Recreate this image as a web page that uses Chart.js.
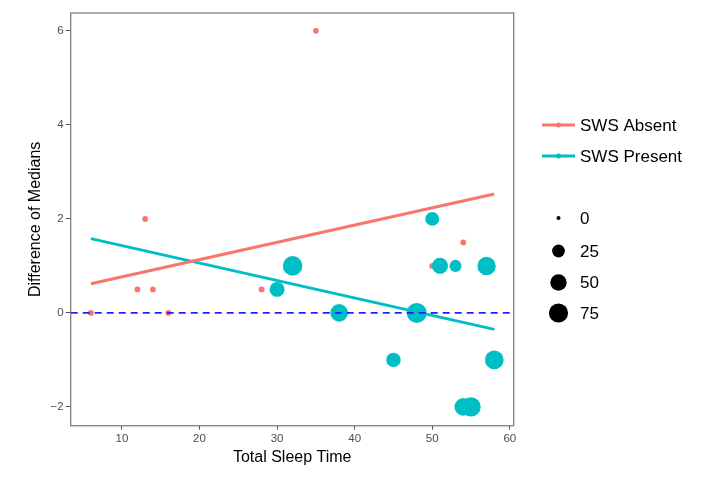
<!DOCTYPE html>
<html>
<head>
<meta charset="utf-8">
<script src="https://cdn.jsdelivr.net/npm/chart.js@4/dist/chart.umd.min.js"></script>
<style>
  body { margin: 0; background: #fff; }
  #wrap { width: 702px; height: 479px; }
</style>
</head>
<body>
<div id="wrap"><canvas id="myChart"></canvas></div>
<script>
// axis setup
const xMin = 3.4, xMax = 60.5;
const yMin = -2.4, yMax = 6.38;
const xTicks = [10, 20, 30, 40, 50, 60];
const yTicks = [-2, 0, 2, 4, 6];

// SWS Absent points
const absentX = [6, 12, 13, 14, 16, 28, 35, 50, 54];
const absentY = [0, 0.5, 2, 0.5, 0, 0.5, 6, 1, 1.5];
const absentSize = [1, 1, 1, 1, 1, 1, 1, 1, 1];

// SWS Present points
const presentX = [30, 32, 38, 45, 48, 50, 51, 53, 57, 58, 54, 55];
const presentY = [0.5, 1, 0, -1, 0, 2, 1, 1, 1, -1, -2, -2];
const presentSize = [39, 79, 60, 36, 83, 32, 47, 21, 67, 70, 60, 77];

// fitted lines (end points)
const fitAbsentX = [6, 58];
const fitAbsentY = [0.62, 2.53];
const fitPresentX = [6, 58];
const fitPresentY = [1.58, -0.35];

// size legend
const sizeBreaks = [0, 25, 50, 75];

const red = '#F8766D';
const teal = '#00BFC4';
const font = "'Liberation Sans', Arial, sans-serif";

function sizeToRadius(v) {
    return 2 + 7.6 * Math.sqrt(v / 75);
}

function toPoints(xs, ys) {
    return xs.map((x, i) => ({ x: x, y: ys[i] }));
}

// panel border + legend
const extras = {
    id: 'extras',
    beforeDatasetsDraw(chart) {
        const a = chart.chartArea;
        const ctx = chart.ctx;
        ctx.save();
        ctx.strokeStyle = '#7f7f7f';
        ctx.lineWidth = 1.3;
        ctx.strokeRect(a.left, a.top, a.right - a.left, a.bottom - a.top);
        ctx.restore();
    },
    afterDraw(chart) {
        const ctx = chart.ctx;
        ctx.save();
        ctx.font = '17px ' + font;
        ctx.textBaseline = 'middle';
        ctx.fillStyle = '#000';

        // colour legend
        const items = [['SWS Absent', red, 125], ['SWS Present', teal, 156]];
        items.forEach(it => {
            ctx.strokeStyle = it[1];
            ctx.lineWidth = 3;
            ctx.beginPath();
            ctx.moveTo(542, it[2]);
            ctx.lineTo(575, it[2]);
            ctx.stroke();
            ctx.fillStyle = it[1];
            ctx.beginPath();
            ctx.arc(558.5, it[2], 2.5, 0, Math.PI * 2);
            ctx.fill();
            ctx.fillStyle = '#000';
            ctx.fillText(it[0], 580, it[2] + 1);
        });

        // size legend
        const ys = [218, 251, 282.5, 313];
        sizeBreaks.forEach((b, i) => {
            ctx.fillStyle = '#000';
            ctx.beginPath();
            ctx.arc(558.5, ys[i], sizeToRadius(b), 0, Math.PI * 2);
            ctx.fill();
            ctx.fillText(String(b), 580, ys[i] + 1);
        });
        ctx.restore();
    }
};

const ctx = document.getElementById('myChart');
const myChart = new Chart(ctx, {
    type: 'scatter',
    data: {
        datasets: [
            {
                label: 'zero',
                type: 'line',
                data: [{ x: xMin, y: 0 }, { x: xMax, y: 0 }],
                borderColor: '#1f1fff',
                borderWidth: 1.8,
                borderDash: [7, 5],
                pointRadius: 0,
                order: 0
            },
            {
                label: 'SWS Absent fit',
                type: 'line',
                data: toPoints(fitAbsentX, fitAbsentY),
                borderColor: red,
                borderWidth: 3,
                pointRadius: 0,
                order: 1
            },
            {
                label: 'SWS Present fit',
                type: 'line',
                data: toPoints(fitPresentX, fitPresentY),
                borderColor: teal,
                borderWidth: 3,
                pointRadius: 0,
                order: 1
            },
            {
                label: 'SWS Present',
                data: toPoints(presentX, presentY),
                backgroundColor: teal,
                borderWidth: 0,
                pointRadius: presentSize.map(sizeToRadius),
                order: 2
            },
            {
                label: 'SWS Absent',
                data: toPoints(absentX, absentY),
                backgroundColor: red,
                borderWidth: 0,
                pointRadius: absentSize.map(sizeToRadius),
                order: 3
            }
        ]
    },
    options: {
        responsive: true,
        maintainAspectRatio: false,
        animation: false,
        layout: {
            padding: { left: 0, right: 188.3, top: 13, bottom: 0 }
        },
        plugins: {
            legend: { display: false },
            tooltip: { enabled: false }
        },
        scales: {
            x: {
                type: 'linear',
                min: xMin,
                max: xMax,
                afterBuildTicks: s => { s.ticks = xTicks.map(v => ({ value: v })); },
                afterFit: s => { s.height = 53.3; },
                grid: { drawOnChartArea: false, drawTicks: true, tickLength: 4, color: '#555' },
                border: { display: false },
                ticks: {
                    padding: 2,
                    color: '#4d4d4d',
                    font: { family: font, size: 11.5 }
                },
                title: {
                    display: true,
                    text: 'Total Sleep Time',
                    color: '#000',
                    font: { family: font, size: 16 },
                    padding: { top: 0, bottom: 11.7 }
                }
            },
            y: {
                type: 'linear',
                min: yMin,
                max: yMax,
                afterBuildTicks: s => { s.ticks = yTicks.map(v => ({ value: v })); },
                afterFit: s => { s.width = 70.7; },
                grid: { drawOnChartArea: false, drawTicks: true, tickLength: 5, color: '#555' },
                border: { display: false },
                ticks: {
                    padding: 2,
                    color: '#4d4d4d',
                    font: { family: font, size: 11.5 },
                    callback: v => (v < 0 ? '\u2212' + Math.abs(v) : String(v))
                },
                title: {
                    display: true,
                    text: 'Difference of Medians',
                    color: '#000',
                    font: { family: font, size: 16 },
                    padding: { top: 26, bottom: 0 }
                }
            }
        }
    },
    plugins: [extras]
});
</script>
</body>
</html>
